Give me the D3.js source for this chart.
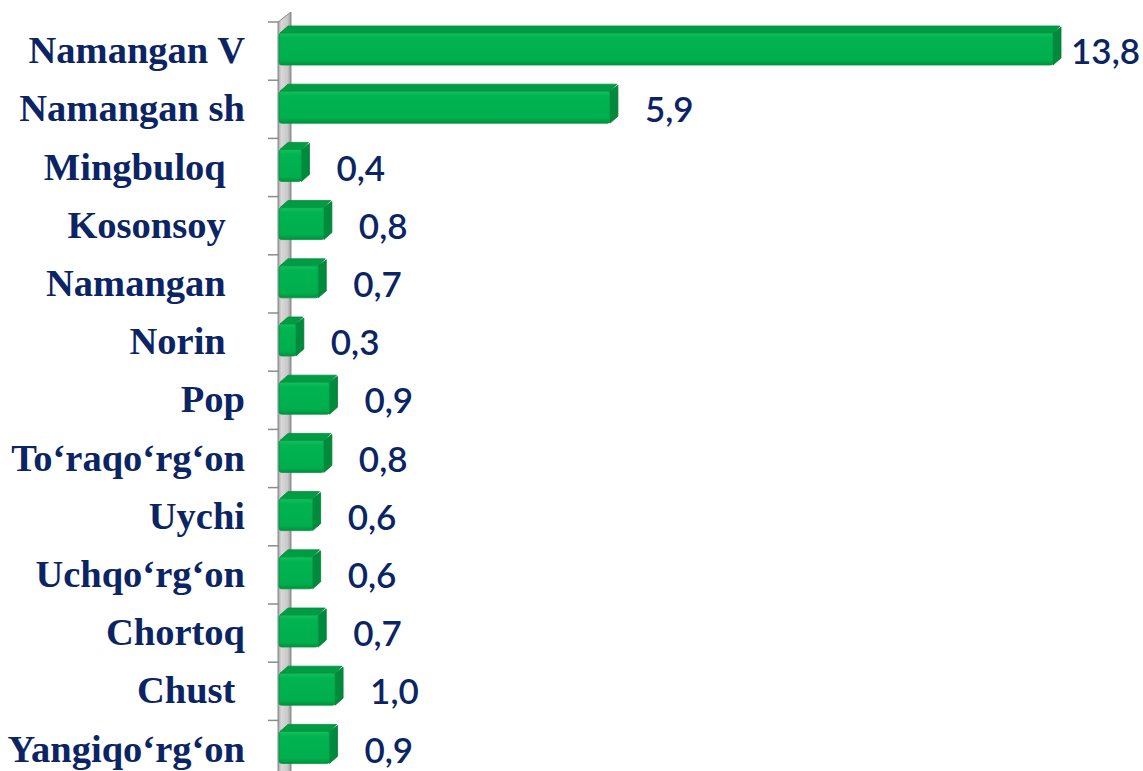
<!DOCTYPE html>
<html><head><meta charset="utf-8">
<script src="https://cdn.jsdelivr.net/npm/d3@7"></script>
<style>html,body{margin:0;padding:0;background:#fff;overflow:hidden}</style>
</head><body>
<svg id="chart" width="1143" height="771"></svg>
<script>
const categories = ["Namangan V","Namangan sh","Mingbuloq  ","Kosonsoy  ","Namangan  ","Norin  ","Pop","To‘raqo‘rg‘on","Uychi","Uchqo‘rg‘on","Chortoq","Chust ","Yangiqo‘rg‘on"];
const values = [13.8,5.9,0.4,0.8,0.7,0.3,0.9,0.8,0.6,0.6,0.7,1.0,0.9];
const valueLabels = ["13,8","5,9","0,4","0,8","0,7","0,3","0,9","0,8","0,6","0,6","0,7","1,0","0,9"];

const W = 1143, H = 771;
const svg = d3.select("#chart");
const defs = svg.append("defs");

const x = d3.scaleLinear().domain([0, 13.8]).range([279, 1053]);
const y = d3.scaleBand().domain(categories).range([22, 22 + 13 * 58.2]).paddingInner(0).paddingOuter(0);

const dx = 8, dy = -7;      // bar depth
const wdx = 13, wdy = -10;  // wall depth

// gradients
const gFront = defs.append("linearGradient").attr("id","gFront").attr("x1",0).attr("y1",0).attr("x2",0).attr("y2",1);
gFront.append("stop").attr("offset","0%").attr("stop-color","#14c05c");
gFront.append("stop").attr("offset","15%").attr("stop-color","#00b451");
gFront.append("stop").attr("offset","85%").attr("stop-color","#00ae4e");
gFront.append("stop").attr("offset","100%").attr("stop-color","#00913e");
const gWall = defs.append("linearGradient").attr("id","gWall").attr("x1",0).attr("y1",0).attr("x2",1).attr("y2",0);
gWall.append("stop").attr("offset","0%").attr("stop-color","#a0a0a0");
gWall.append("stop").attr("offset","25%").attr("stop-color","#d8d8d8");
gWall.append("stop").attr("offset","75%").attr("stop-color","#c8c8c8");
gWall.append("stop").attr("offset","100%").attr("stop-color","#949494");

// wall
const x0 = x(0);
const yTop = y.range()[0];
svg.append("path")
  .attr("d", `M${x0-1},${yTop} L${x0-1+wdx},${yTop+wdy} L${x0-1+wdx},${H+20} L${x0-1},${H+20} Z`)
  .attr("fill","url(#gWall)").attr("stroke","#8a8a8a").attr("stroke-width",1);

// tick marks at band boundaries
const bounds = categories.map(c => y(c)).concat([y.range()[1]]);
svg.append("g").selectAll("line").data(bounds).join("line")
  .attr("x1", x0 - 11).attr("x2", x0)
  .attr("y1", d => d).attr("y2", d => d)
  .attr("stroke","#8c8c8c").attr("stroke-width",1.5);

// bars
const bars = svg.append("g").selectAll("g").data(categories).join("g");
const fTop = c => y(c) + 11, fBot = c => y(c) + 43;
bars.append("path") // side
  .attr("d", (c,i) => { const xe = x(values[i]); return `M${xe},${fTop(c)} L${xe+dx},${fTop(c)+dy+1} L${xe+dx},${fBot(c)+dy} L${xe},${fBot(c)} Z`; })
  .attr("fill","#008a3b").attr("stroke","#007c34").attr("stroke-width",0.8).attr("stroke-linejoin","round");
bars.append("path") // top
  .attr("d", (c,i) => { const xe = x(values[i]); return `M${x0+1},${fTop(c)} L${x0+1+dx},${fTop(c)+dy} L${xe+dx-1},${fTop(c)+dy} L${xe},${fTop(c)} Z`; })
  .attr("fill","#009c44").attr("stroke","#008c3d").attr("stroke-width",0.8).attr("stroke-linejoin","round");
bars.append("rect") // front
  .attr("x", x0).attr("y", c => fTop(c))
  .attr("width", (c,i) => x(values[i]) - x0).attr("height", c => fBot(c) - fTop(c))
  .attr("rx", 2.5)
  .attr("fill","url(#gFront)").attr("stroke","#009442").attr("stroke-width",0.8);

// category labels
svg.append("g").selectAll("text").data(categories).join("text")
  .attr("x", 245).attr("y", c => y(c) + y.bandwidth()/2 + 12)
  .attr("text-anchor","end")
  .style("white-space","pre")
  .attr("font-family","'Liberation Serif', serif").attr("font-weight","bold").attr("font-size",38.5)
  .attr("fill","#0b2463")
  .text(c => c);

// value labels
const vl = svg.append("g").selectAll("text").data(categories).join("text")
  .attr("x", (c,i) => x(values[i]) + dx + 27)
  .attr("y", c => y(c) + y.bandwidth()/2 + 13)
  .attr("font-family","Lato, 'Liberation Sans', sans-serif").attr("font-weight",600).attr("font-size",35)
  .attr("fill","#0b2463")
  .text((c,i) => valueLabels[i]);
vl.each(function(){
  const b = this.getBBox();
  if (b.x + b.width > W - 3) d3.select(this).attr("x", W - 3 - b.width);
});
</script>
</body></html>
